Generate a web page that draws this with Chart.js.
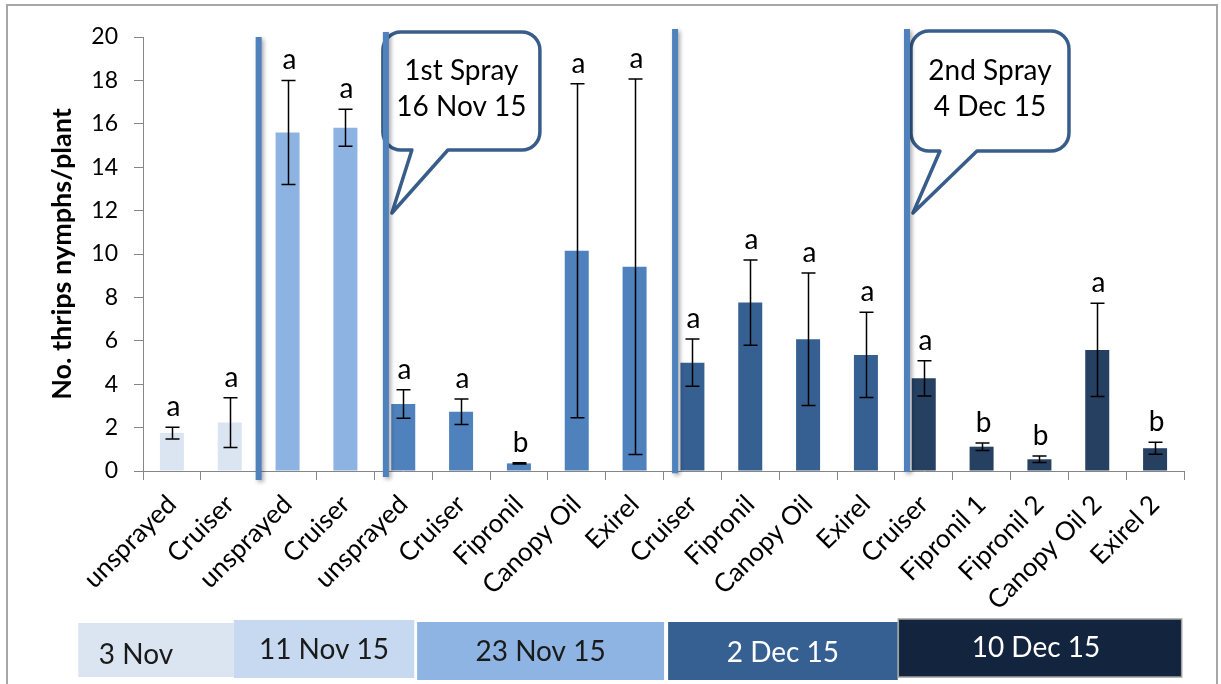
<!DOCTYPE html>
<html lang="en">
<head>
    <meta charset="UTF-8">
    <title>Thrips nymphs per plant</title>
    <script src="https://cdn.jsdelivr.net/npm/chart.js"></script>
    <style>
        html, body {
            margin: 0;
            padding: 0;
            background: #fff;
        }
        #wrap {
            width: 1221px;
            height: 684px;
        }
    </style>
</head>
<body>
    <div id="wrap"><canvas id="thripsChart" width="1221" height="684"></canvas></div>

    <script>
        // treatments in the order they appear on the x axis
        const categories = ['unsprayed', 'Cruiser', 'unsprayed', 'Cruiser', 'unsprayed', 'Cruiser', 'Fipronil',
            'Canopy Oil', 'Exirel', 'Cruiser', 'Fipronil', 'Canopy Oil', 'Exirel', 'Cruiser', 'Fipronil 1',
            'Fipronil 2', 'Canopy Oil 2', 'Exirel 2'];
        const means = [1.75, 2.23, 15.6, 15.82, 3.09, 2.73, 0.35, 10.15, 9.41, 4.99, 7.76, 6.07, 5.35, 4.27, 1.12, 0.54, 5.58, 1.05];
        const errors = [0.27, 1.15, 2.4, 0.85, 0.66, 0.59, 0.03, 7.7, 8.65, 1.09, 1.96, 3.05, 1.96, 0.81, 0.17, 0.15, 2.15, 0.28];
        const letters = ['a', 'a', 'a', 'a', 'a', 'a', 'b', 'a', 'a', 'a', 'a', 'a', 'a', 'a', 'b', 'b', 'a', 'b'];
        const sampleDates = ['3 Nov', '11 Nov 15', '23 Nov 15', '2 Dec 15', '10 Dec 15'];
        const dateOf = [0, 0, 1, 1, 2, 2, 2, 2, 2, 3, 3, 3, 3, 4, 4, 4, 4, 4];
        const sprayNotes = [['1st Spray', '16 Nov 15'], ['2nd Spray', '4 Dec 15']];
        const yTicks = { min: 0, max: 20, step: 2 };

        const FONT = 'Lato, "Open Sans", sans-serif';
        const barColours = ['#dbe5f1', '#8db3e2', '#4f81bd', '#376092', '#254061'];
        const bandColours = ['#dbe5f1', '#c6d9f1', '#8eb4e3', '#376092', '#13253e'];
        const bandText = ['#1a1a1a', '#1a1a1a', '#1a1a1a', '#ffffff', '#ffffff'];

        function calloutPath(ctx, l, t, w, h, r, b1, b2, tipX, tipY) {
            const rt = l + w, bt = t + h;
            ctx.beginPath();
            ctx.moveTo(l + r, t);
            ctx.lineTo(rt - r, t);
            ctx.arcTo(rt, t, rt, t + r, r);
            ctx.lineTo(rt, bt - r);
            ctx.arcTo(rt, bt, rt - r, bt, r);
            ctx.lineTo(b2, bt);
            ctx.lineTo(tipX, tipY);
            ctx.lineTo(b1, bt);
            ctx.lineTo(l + r, bt);
            ctx.arcTo(l, bt, l, bt - r, r);
            ctx.lineTo(l, t + r);
            ctx.arcTo(l, t, l + r, t, r);
            ctx.closePath();
        }

        const overlay = {
            id: 'overlay',
            afterDatasetsDraw(chart) {
                const ctx = chart.ctx;
                const x = chart.scales.x;
                const y = chart.scales.y;

                // error bars + significance letters
                ctx.save();
                ctx.strokeStyle = '#000';
                ctx.lineWidth = 1.5;
                ctx.fillStyle = '#000';
                ctx.font = '28px ' + FONT;
                ctx.textAlign = 'center';
                ctx.textBaseline = 'alphabetic';
                means.forEach((m, i) => {
                    const cx = Math.round(x.getPixelForValue(i)) + 0.5;
                    const top = y.getPixelForValue(m + errors[i]);
                    const bot = y.getPixelForValue(m - errors[i]);
                    ctx.beginPath();
                    ctx.moveTo(cx, top);
                    ctx.lineTo(cx, bot);
                    ctx.moveTo(cx - 7, top);
                    ctx.lineTo(cx + 7, top);
                    ctx.moveTo(cx - 7, bot);
                    ctx.lineTo(cx + 7, bot);
                    ctx.stroke();
                    ctx.fillText(letters[i], cx + 1, top - 11);
                });
                ctx.restore();

                // spray callouts (anchored on the divider lines)
                const notes = [
                    { at: 3.7, dx: -3, w: 157, top: 32, h: 118, b1: 29, b2: 65 },
                    { at: 12.71, dx: 4, w: 158, top: 31, h: 120, b1: 29, b2: 66 }
                ];
                notes.forEach((n, k) => {
                    const lx = x.getPixelForValue(n.at);
                    const l = lx + n.dx;
                    ctx.save();
                    calloutPath(ctx, l, n.top, n.w, n.h, 18, l + n.b1, l + n.b2, lx + 6, 213);
                    ctx.fillStyle = '#fff';
                    ctx.fill();
                    ctx.strokeStyle = '#385d8a';
                    ctx.lineWidth = 3.5;
                    ctx.lineJoin = 'round';
                    ctx.stroke();
                    ctx.fillStyle = '#000';
                    ctx.font = '28px ' + FONT;
                    ctx.textAlign = 'center';
                    ctx.textBaseline = 'middle';
                    ctx.fillText(sprayNotes[k][0], l + n.w / 2, 71);
                    ctx.fillText(sprayNotes[k][1], l + n.w / 2, 107);
                    ctx.restore();
                });

                // divider lines between sampling dates
                const dividers = [
                    { at: 1.5, top: 20.0, bottom: -0.41 },
                    { at: 3.7, top: 20.23, bottom: -0.28 },
                    { at: 8.7, top: 20.37, bottom: -0.1 },
                    { at: 12.71, top: 20.37, bottom: -0.05 }
                ];
                ctx.save();
                ctx.strokeStyle = '#4f81bd';
                ctx.lineWidth = 6;
                ctx.shadowColor = 'rgba(0,0,0,0.35)';
                ctx.shadowBlur = 4;
                ctx.shadowOffsetX = 2;
                ctx.shadowOffsetY = 2;
                dividers.forEach(d => {
                    const px = x.getPixelForValue(d.at);
                    ctx.beginPath();
                    ctx.moveTo(px, y.getPixelForValue(d.top));
                    ctx.lineTo(px, y.getPixelForValue(d.bottom));
                    ctx.stroke();
                });
                ctx.restore();
            },
            afterDraw(chart) {
                const ctx = chart.ctx;
                const x = chart.scales.x;

                // sampling date bands under the axis
                const bands = [
                    { from: -1.62, to: 1.07, top: 623, bottom: 677, tx: -20, ty: 655 },
                    { from: 1.07, to: 4.19, top: 620, bottom: 678, tx: 0, ty: 650 },
                    { from: 4.24, to: 8.51, top: 622, bottom: 680, tx: 0, ty: 652 },
                    { from: 8.58, to: 12.55, top: 622, bottom: 680, tx: 0, ty: 653 },
                    { from: 12.56, to: 17.46, top: 619, bottom: 677, tx: -4, ty: 648 }
                ];
                ctx.save();
                ctx.font = '28px ' + FONT;
                ctx.textAlign = 'center';
                ctx.textBaseline = 'middle';
                bands.forEach((b, i) => {
                    const l = x.getPixelForValue(b.from);
                    const r = x.getPixelForValue(b.to);
                    ctx.fillStyle = bandColours[i];
                    ctx.fillRect(l, b.top, r - l, b.bottom - b.top);
                    if (i === 4) {
                        ctx.strokeStyle = '#a0a0a0';
                        ctx.lineWidth = 1.5;
                        ctx.strokeRect(l, b.top, r - l, b.bottom - b.top);
                    }
                    ctx.fillStyle = bandText[i];
                    ctx.fillText(sampleDates[i], (l + r) / 2 + b.tx, b.ty);
                });

                // outer frame
                ctx.strokeStyle = '#a6a6a6';
                ctx.lineWidth = 2;
                ctx.strokeRect(7, 5, 1210, 700);
                ctx.restore();
            }
        };

        const chart = new Chart(document.getElementById('thripsChart').getContext('2d'), {
            type: 'bar',
            data: {
                labels: categories,
                datasets: [{
                    data: means,
                    backgroundColor: means.map((_, i) => barColours[dateOf[i]]),
                    categoryPercentage: 1,
                    barPercentage: 0.415
                }]
            },
            options: {
                responsive: false,
                animation: false,
                layout: { padding: { left: 0, top: 37, right: 37, bottom: 0 } },
                plugins: {
                    legend: { display: false },
                    tooltip: { enabled: false }
                },
                scales: {
                    x: {
                        grid: { offset: true, drawOnChartArea: false, tickLength: 9, color: '#868686' },
                        border: { color: '#868686' },
                        ticks: {
                            autoSkip: false,
                            minRotation: 45,
                            maxRotation: 45,
                            padding: 9,
                            color: '#000',
                            font: { family: FONT, size: 26 }
                        },
                        afterFit: s => { s.height = 213; }
                    },
                    y: {
                        min: yTicks.min,
                        max: yTicks.max,
                        grid: { drawOnChartArea: false, tickLength: 9, color: '#868686' },
                        border: { color: '#868686' },
                        ticks: {
                            stepSize: yTicks.step,
                            padding: 16,
                            color: '#000',
                            font: { family: FONT, size: 23 }
                        },
                        title: {
                            display: true,
                            text: 'No. thrips nymphs/plant',
                            color: '#000',
                            font: { family: FONT, size: 27, weight: 'bold' },
                            padding: { top: 46, bottom: 0 }
                        },
                        afterFit: s => { s.width = 143; }
                    }
                }
            },
            plugins: [overlay]
        });
    </script>
</body>
</html>
